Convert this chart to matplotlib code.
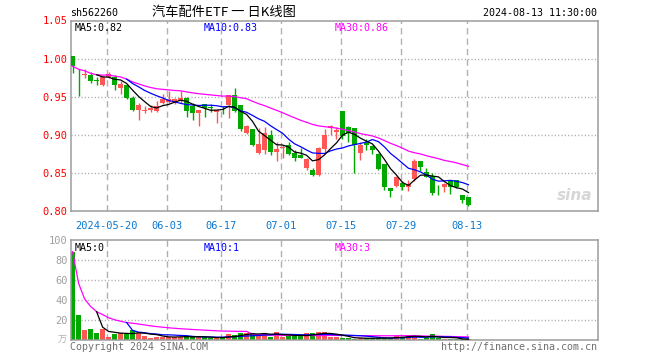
import numpy as np
import pandas as pd
import matplotlib
matplotlib.use('Agg')
from matplotlib import pyplot as plt

'''
Sina style daily K chart for sh562260 with volume panel below
'''

###########################################
# Data
###########################################

open_px = [1.003, 0.983, 0.979, 0.978, 0.972, 0.965, 0.976, 0.976, 0.961, 0.966,
           0.948, 0.932, 0.931, 0.933, 0.931, 0.942, 0.943, 0.943, 0.946, 0.948,
           0.938, 0.928, 0.940, 0.936, 0.930, 0.933, 0.939, 0.952, 0.939, 0.902,
           0.907, 0.876, 0.880, 0.900, 0.877, 0.883, 0.887, 0.876, 0.874, 0.856,
           0.854, 0.847, 0.881, 0.909, 0.904, 0.931, 0.910, 0.909, 0.876, 0.891,
           0.885, 0.875, 0.862, 0.830, 0.833, 0.837, 0.832, 0.842, 0.865, 0.851,
           0.846, 0.832, 0.831, 0.841, 0.841, 0.821, 0.818]
close_px = [0.990, 0.982, 0.980, 0.971, 0.971, 0.976, 0.980, 0.966, 0.967, 0.948,
            0.932, 0.939, 0.932, 0.935, 0.938, 0.947, 0.947, 0.947, 0.948, 0.931,
            0.928, 0.932, 0.935, 0.935, 0.932, 0.932, 0.952, 0.931, 0.907, 0.912,
            0.886, 0.888, 0.902, 0.877, 0.882, 0.884, 0.875, 0.869, 0.870, 0.868,
            0.847, 0.883, 0.900, 0.911, 0.906, 0.898, 0.902, 0.886, 0.886, 0.886,
            0.880, 0.855, 0.831, 0.826, 0.844, 0.831, 0.836, 0.866, 0.858, 0.845,
            0.824, 0.831, 0.835, 0.832, 0.831, 0.815, 0.808]
high_px = [1.004, 0.987, 0.987, 0.983, 0.976, 0.977, 0.983, 0.978, 0.971, 0.967,
           0.951, 0.942, 0.938, 0.939, 0.944, 0.954, 0.957, 0.948, 0.957, 0.949,
           0.942, 0.933, 0.940, 0.940, 0.933, 0.938, 0.952, 0.961, 0.939, 0.913,
           0.908, 0.909, 0.910, 0.906, 0.891, 0.887, 0.891, 0.880, 0.883, 0.869,
           0.856, 0.884, 0.907, 0.913, 0.910, 0.931, 0.911, 0.909, 0.891, 0.894,
           0.886, 0.876, 0.862, 0.830, 0.846, 0.839, 0.841, 0.868, 0.865, 0.856,
           0.850, 0.834, 0.837, 0.841, 0.841, 0.821, 0.818]
low_px = [0.981, 0.951, 0.975, 0.968, 0.965, 0.964, 0.974, 0.959, 0.953, 0.947,
          0.931, 0.920, 0.929, 0.930, 0.930, 0.941, 0.942, 0.940, 0.942, 0.924,
          0.920, 0.911, 0.924, 0.930, 0.916, 0.927, 0.922, 0.930, 0.905, 0.901,
          0.885, 0.875, 0.875, 0.874, 0.866, 0.870, 0.874, 0.866, 0.869, 0.854,
          0.846, 0.846, 0.878, 0.900, 0.895, 0.894, 0.891, 0.850, 0.867, 0.880,
          0.875, 0.854, 0.827, 0.818, 0.831, 0.827, 0.826, 0.840, 0.852, 0.844,
          0.821, 0.821, 0.825, 0.822, 0.830, 0.810, 0.807]
# volume in 万
volume = [88.3, 25, 10, 11, 7.3, 11, 3.3, 6, 6.7, 6,
          10, 7.3, 4, 2.3, 3.3, 3.3, 2.7, 3.3, 3.3, 4,
          2.7, 3.3, 2.7, 1.7, 1.7, 2.7, 6, 5, 6.7, 6.7,
          6.7, 5, 7.3, 3.3, 8, 3.3, 4, 4, 4, 6.7,
          6.7, 8, 8, 3.3, 3.3, 1.7, 2, 1, 2, 2,
          2, 2, 2, 1.7, 4.3, 3.3, 5.3, 4.3, 0.7, 2,
          6.3, 2, 1.5, 0.6, 0.6, 0.7, 0.8]

date_ticks = [6, 16, 25, 35, 45, 55, 66]  # trading-day index of each label
date_labels = ['2024-05-20', '06-03', '06-17', '07-01', '07-15', '07-29', '08-13']
price_ticks = [0.80, 0.85, 0.90, 0.95, 1.00, 1.05]
vol_ticks = [20, 40, 60, 80, 100]

###########################################
# Styling
###########################################

W, H = 660, 360
RED = '#ff5656'
GREEN = '#00a800'
MONO = 'DejaVu Sans Mono'
plt.rcParams['lines.scale_dashes'] = False

df = pd.DataFrame({'open': open_px, 'close': close_px, 'high': high_px,
                   'low': low_px, 'vol': volume})
x = np.arange(len(df))
up = df['close'] >= df['open']
colors = np.where(up, RED, GREEN)

fig = plt.figure(figsize=(W / 100, H / 100), dpi=100)
ax = fig.add_axes([70.5 / W, 1 - 211 / H, (598 - 70.5) / W, (211 - 20.5) / H])
axv = fig.add_axes([70.5 / W, 1 - 340 / H, (598 - 70.5) / W, 100 / H])

def style_frame(a):
    for s in a.spines.values():
        s.set_color('#9c9c9c')
        s.set_linewidth(1.1)
    a.set_xlim(-0.35, 87.6)
    a.tick_params(length=0)
    grid_x = [t - 0.28 for t in date_ticks]
    for gx in grid_x:
        a.axvline(gx, color='#b0b0b0', lw=1.0, dashes=(4.5, 3), zorder=0)

###########################################
# Price panel
###########################################

style_frame(ax)
ax.set_ylim(0.80, 1.05)
for p in price_ticks[1:-1]:
    ax.axhline(p, color='#a8a8a8', lw=1.0, dashes=(0.8, 1.6), zorder=0)

ax.vlines(x, df['low'], df['high'], colors=colors, lw=1.0, zorder=2)
body = (df['close'] - df['open']).abs().clip(lower=0.0008)
ax.bar(x, body, bottom=df[['open', 'close']].min(axis=1), width=0.8,
       color=colors, linewidth=0, zorder=3)

ma5 = df['close'].rolling(5).mean()
ma10 = df['close'].rolling(10).mean()
ma30 = df['close'].rolling(30, min_periods=1).mean()
ax.plot(x, ma30, color='#ff00ff', lw=0.9, zorder=4)
ax.plot(x, ma10, color='#0000ff', lw=0.9, zorder=4)
ax.plot(x, ma5, color='black', lw=0.9, zorder=4)

ax.set_yticks(price_ticks)
ax.set_yticklabels(['%.2f' % p for p in price_ticks], color='red',
                   family=MONO, fontsize=7.5)
ax.tick_params(axis='y', pad=2)
ax.set_xticks([t - 0.28 for t in date_ticks])
ax.set_xticklabels(date_labels, color='#0a78d0', family=MONO, fontsize=7.5)
ax.tick_params(axis='x', pad=7.5)

ax.text(0.008, 0.985, 'MA5:%.2f' % ma5.iloc[-1], transform=ax.transAxes,
        ha='left', va='top', family=MONO, fontsize=7.2, color='black')
ax.text(0.253, 0.985, 'MA10:%.2f' % ma10.iloc[-1], transform=ax.transAxes,
        ha='left', va='top', family=MONO, fontsize=7.2, color='#0000ff')
ax.text(0.5, 0.985, 'MA30:%.2f' % ma30.iloc[-1], transform=ax.transAxes,
        ha='left', va='top', family=MONO, fontsize=7.2, color='#ff00ff')

# sina watermark
ax.text(0.955, 0.08, 'sina', transform=ax.transAxes, ha='center', va='center',
        fontsize=11, style='italic', weight='bold', color='#d6d6d6',
        family='DejaVu Sans')

###########################################
# Volume panel
###########################################

style_frame(axv)
axv.set_ylim(0, 100)
for v in vol_ticks[:-1]:
    axv.axhline(v, color='#a8a8a8', lw=1.0, dashes=(0.8, 1.6), zorder=0)

axv.bar(x, df['vol'], width=0.8, color=colors, linewidth=0, zorder=2)
vma5 = df['vol'].rolling(5).mean()
vma10 = df['vol'].rolling(10).mean()
vma30 = df['vol'].rolling(30, min_periods=1).mean()
axv.plot(x, vma30, color='#ff00ff', lw=0.9, zorder=4)
axv.plot(x, vma10, color='#0000ff', lw=0.9, zorder=4)
axv.plot(x, vma5, color='black', lw=0.9, zorder=4)

axv.set_yticks(vol_ticks)
axv.set_yticklabels([str(v) for v in vol_ticks], color='#a0a0a0',
                    family=MONO, fontsize=7.5)
axv.tick_params(axis='y', pad=2)
axv.set_xticks([])

axv.text(0.008, 0.97, 'MA5:%d' % int(vma5.iloc[-1]), transform=axv.transAxes,
         ha='left', va='top', family=MONO, fontsize=7.2, color='black')
axv.text(0.253, 0.97, 'MA10:%d' % int(vma10.iloc[-1]), transform=axv.transAxes,
         ha='left', va='top', family=MONO, fontsize=7.2, color='#0000ff')
axv.text(0.5, 0.97, 'MA30:%d' % int(vma30.iloc[-1]), transform=axv.transAxes,
         ha='left', va='top', family=MONO, fontsize=7.2, color='#ff00ff')

###########################################
# Header and footer text
###########################################

fig.text(70 / W, 1 - 12.5 / H, 'sh562260', ha='left', va='center',
         family=MONO, fontsize=7.2, color='black')
fig.text(224 / W, 1 - 12.5 / H, '汽车配件ETF 一 日K线图', ha='center', va='center',
         family=['Noto Sans CJK SC', 'DejaVu Sans'], fontsize=9.5, color='black')
fig.text(597 / W, 1 - 12.5 / H, '2024-08-13 11:30:00', ha='right', va='center',
         family=MONO, fontsize=7.2, color='black')
fig.text(67 / W, 1 - 340 / H, '万', ha='right', va='center',
         family=['Noto Sans CJK SC', 'DejaVu Sans'], fontsize=6.5, color='#b0b0b0')
fig.text(70 / W, 1 - 347 / H, 'Copyright 2024 SINA.COM', ha='left', va='center',
         family=MONO, fontsize=7.2, color='#707070')
fig.text(597 / W, 1 - 347 / H, 'http://finance.sina.com.cn', ha='right',
         va='center', family=MONO, fontsize=7.2, color='#707070')

fig.savefig('out.png', dpi=100)
